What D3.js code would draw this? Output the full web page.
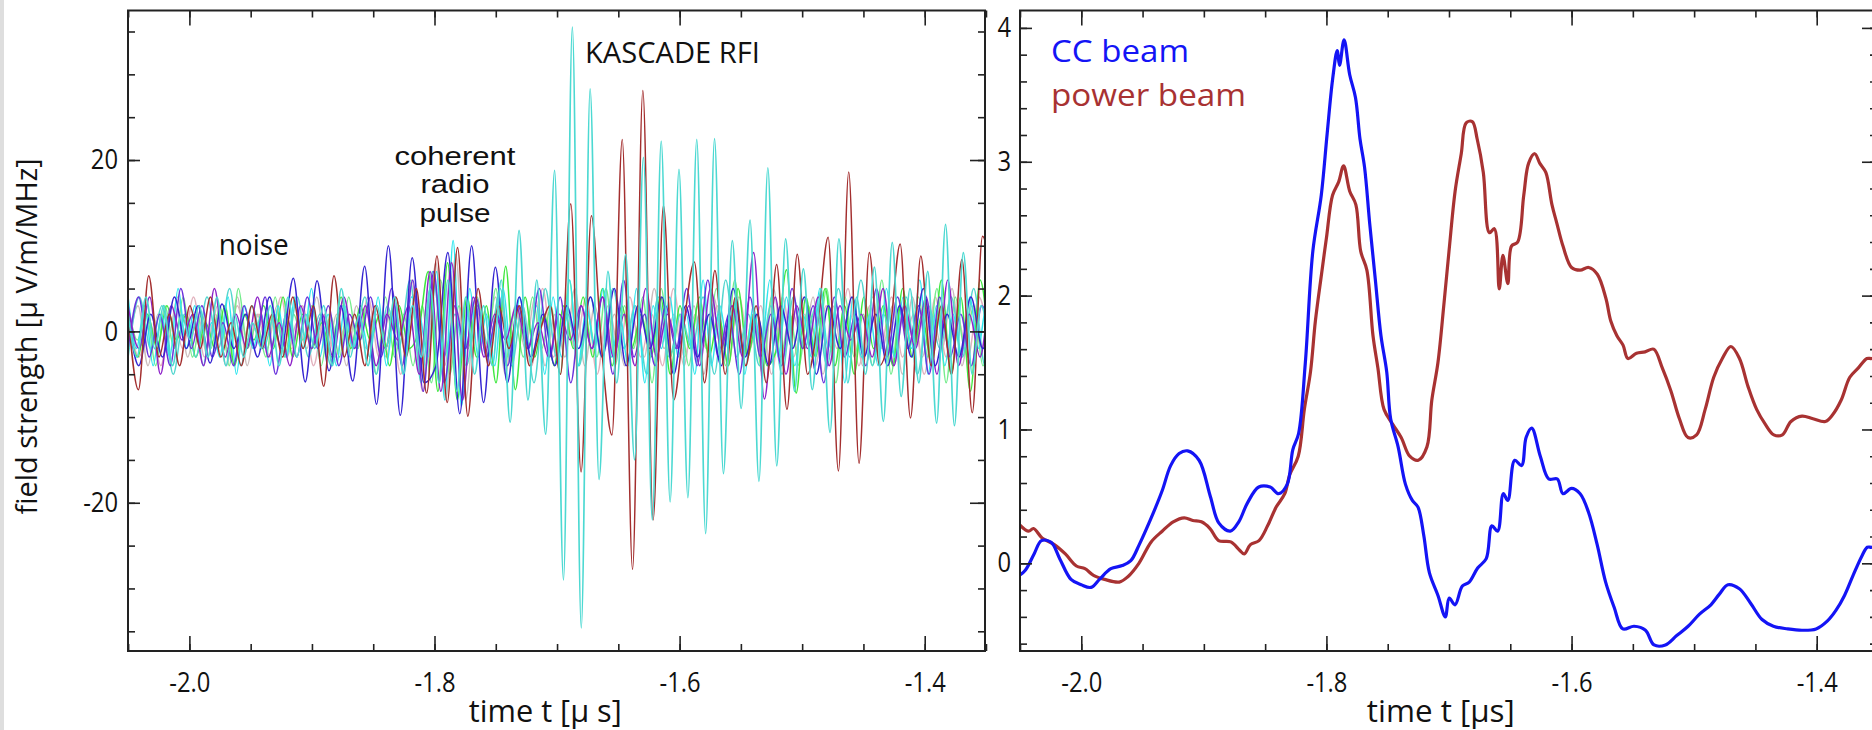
<!DOCTYPE html>
<html>
<head>
<meta charset="utf-8">
<script src="https://cdn.jsdelivr.net/npm/d3@7"></script>
<style>
  html, body { margin: 0; padding: 0; background: #fff; }
  svg { display: block; font-family: "Open Sans", "Noto Sans", sans-serif; }
</style>
</head>
<body>
<main></main>
<script>
"use strict";

//Tick labels of both panels
const timeTicks = [-2.0, -1.8, -1.6, -1.4];
const fieldTicks = [-20, 0, 20];
const beamTicks = [0, 1, 2, 3, 4];

//Left panel: antenna traces, one value per half period (sample spacing in traceSteps)
const traceOrder = ["grey", "pink", "lime", "green", "teal", "aqua", "violet", "purple", "blue", "brown", "cyan"];
const traceStart = [-2.05, -2.05, -2.05, -2.05, -2.05, -2.05, -2.05, -2.05, -2.051, -2.05, -2.05];
const traceSteps = [0.0081, 0.0089, 0.0075, 0.0079, 0.0092, 0.0068, 0.0086, 0.0088, 0.0097, 0.0084, 0.00725];

const greyTrace = [
  -2, 3, -4, 2, -1, 4, -3, 2, -3, 3, -2, 4, -4, 2, -2, 3, -3, 1, -2, 4,
  -3, 2, -4, 3, -2, 2, -3, 4, -2, 3, -4, 8, -8, 9, -8, 3, -2, 4, -5, 3,
  -2, 4, -4, 2, -3, 5, -4, 3, -2, 2, -4, 3, -3, 5, -2, 2, -4, 3, -5, 4,
  -2, 3, -3, 2, -4, 5, -3, 2, -2, 4, -5, 3, -3, 2, -4, 4, -2, 3, -5, 4,
  -3, 2, -2, 5, -4, 3, -2, 3, -2, 1,
];
const pinkTrace = [
  2, -3, 1, -4, 3, -2, 4, -3, 2, -4, 3, -1, 2, -3, 4, -2, 3, -4, 2, -3,
  1, -2, 4, -3, 2, -5, 6, -7, 6, -4, 3, -2, 2, -3, 4, -2, 3, -4, 5, -3,
  2, -2, 4, -5, 3, -2, 4, -3, 2, -4, 5, -3, 2, -2, 3, -4, 4, -2, 3, -5,
  4, -3, 2, -4, 3, -2, 5, -4, 3, -2, 4, -3, 2, -5, 4, -3, 2, -3, 4, -2,
];
const limeTrace = [
  3, -1, 2, -4, 3, -2, 4, -3, 2, -2, 3, -4, 5, -2, 1, -3, 4, -3, 2, -1,
  3, -4, 2, -3, 4, -2, 3, -5, 4, -3, 2, -4, 3, -6, 6, -5, 3, -2, 4, -3,
  5, -4, 2, -3, 4, -2, 3, -5, 6, -4, 2, -3, 5, -4, 3, -2, 4, -6, 5, -3,
  2, -4, 3, -2, 5, -4, 6, -3, 2, -5, 4, -3, 2, -4, 3, -2, 5, -6, 4, -3,
  2, -4, 6, -5, 3, -2, 4, -3, 5, -6, 4, -2, 3, -4, 2,
];
const greenTrace = [
  1, -3, 2, -2, 3, -1, 2, -3, 1, -2, 3, -4, 2, -1, 3, -2, 4, -3, 2, -2,
  1, -3, 4, -2, 3, -1, 2, -4, 3, -2, 0, 7, -7, 8, -8, 4, -3, 3, -6, 7.6,
  -6.8, 4, -3, 2, -4, 3, -2, 4, -3, 5, -4, 3, -2, 2, -3, 4, -5, 3, -2, 4,
  -3, 2, -4, 5, -3, 2, -4, -2, 7.2, -7.2, 4, -3, 5, -4, 3, -5, 4, -2, 3, -4,
  5, -3, 2, -4, 6, -5, 4, -7, 6, -3,
];
const tealTrace = [
  -3, 4, -2, 3, -5, 2, -3, 4, -2, 5, -4, 3, -2, 2, -3, 4, -3, 2, -4, 3,
  -2, 4, -5, 3, -2, 6, -6, 7, -3, 2, -4, 3, -2, 5, -4, 3, -6, 5, -3, 2,
  -4, 4, -3, 5, -2, 3, -5, 4, -3, 2, -2, 4, -5, 6, -3, 2, -4, 3, -5, 4,
  -2, 3, -4, 5, -3, 6, -4, 2, -3, 4, -5, 3, -2, 4, -3, 5, -4, 3, -2, 2,
];
const aquaTrace = [
  4, -2, 3, -4, 2, -3, 5, -2, 3, -4, 1, -3, 4, -5, 3, -2, 2, -4, 3, -3,
  4, -2, 5, -3, 2, -4, 3, -2, 1, -3, 4, -4, 3, -5, 4, 2, -3, 7, -8, 10.6,
  -8.7, 5, -3, 2, -4, 5, -3, 4, -2, 3, -5, 4, -3, 6, -4, 3, -2, 5, -3, 2,
  -4, 5, -6, 3, -2, 4, -3, 2, -5, 6, -4, 3, -2, 4, -5, 3, -2, 6, -3, 4,
  -4, 2, -3, 5, -2, 3, -6, 4, -3, 2, -4, 5, -3, 4, -2, 6, -5, 3, -4, 2,
  -3, 4, -2, 3, -1,
];
const violetTrace = [
  -2, 4, -3, 2, -4, 5, -2, 3, -3, 1, -4, 3, -2, 4, -5, 2, -3, 4, -2, 3,
  -4, 2, -1, 4, -3, 5, -4, 6, -7, 7, -6, 3, -2, 4, -3, 2, -4, 3, -2, 5,
  -3, 4, -6, 3, -2, 4, -5, 6, -3, 2, -4, 3, -2, 5, -4, 6, -3, 2, -5, 4,
  -3, 2, -4, 5, -2, 3, -6, 4, -3, 2, -4, 5, -3, 4, -2, 3, -5, 4, -3, 2,
  -4, 3, -2,
];
const purpleTrace = [
  3, -2, 4, -5, 3, -1, 2, -4, 5, -3, 2, -2, 4, -3, 1, -4, 3, -2, 2, -3,
  4, -2, 3, -4, 2, -1, 3, -5, 7, -7, 8, -8, 4, -3, 2, -1, 3, -2, 1, -3,
  2, -1, 3, -2, 4, -3, 2, -4, 5, -3, 2, -2, 3, -4, 5, -2, 3, -3, 9.2, -7.9,
  4, -5, 3, -2, 4, -4, 3, -1, 2, -3, 5, -4, 3, -2, 4, -5, 6, -4, 2, -3,
  4, -2,
];
const blueTrace = [
  3, -4, 2, -3, 4, -2, 3, -3.7, 3.2, -2, 2, -3, 4, -2, 6.2, -5.9, 5.9, -4.6, 3, -5.8,
  7.6, -8.5, 10, -9.8, 8.6, -6, -4, 9.2, -9.6, 10, -8.3, 7.5, -6, 4, -3, 2, -4, 3, -2, 4,
  -3, 5, -4, 3, -2, 4, -5, 3, -3, 2, -4, 5, -3, 2, -4, 3, -2, 4, -5, 3,
  -2, 4, -3, 2, -4, 3, -3, 5, -4, 2, -3, 4, -2, 3,
];
const brownTrace = [
  2, -6.8, 6.5, -3, 2, -4, 3, -2, 4, -3, 1, -4, 3, -2, 2, -3, 4, -2, 3, -6.4,
  6.5, -3, 2, -4, 3, -2, 4, -3, 5, -7.2, 8.8, -8.3, 9.8, -9.9, 5, -4, 3, -2, 3, -4,
  0, 3, -5, 14.9, -16.4, 13.5, -2, -12.1, 22.4, -27.8, 28.1, -22, 14.7, -8, 1, 8.1, -6, 7.1, -5, 4,
  -4, 3, -6, 7.8, -9.1, 9, -5, 1, 11, -16.3, 18.6, -15.4, 9.2, -4, 0, 10.2, -10.1, 8.8, -4, 3,
  -5, 8.4, -9.5, 11.1, 4,
];
const cyanTrace = [
  2, -3, 4, -2, 3, -4, 2, -1, 3, -3, 4, -4, 2, -3, 1, -2, 3, -4, 4, -3,
  2, -2, 3, -4, 5, -3, 2, -4, 3, -2, 4, -5, 3, -3, 5, -6, 6, -7, 4, -5,
  3, -4, 6, -10.6, 11.8, -8, 6, -12, 18.8, -29, 35.5, -34.6, 28.3, -17.3, 7, -6, 9, -15, 20.3, -22,
  22.2, -19.9, 18.9, -19.4, 22.4, -23.6, 22.5, -16.6, 10.6, -9, 13, -17.5, 19.1, -15.7, 10.8, -7, 7.3, -6.8, 5, -11.8,
  10.8, -6, 4, -5, 7.5, -10.5, 10.4, -7.6, 5, -6, 7, -10.7, 12.5, -11, 9.2, -5, 3, -2,
];

//Right panel: beamformed signals
const ccTime = [
  -2.05, -2.0455, -2.0385, -2.0325, -2.0246, -2.0176, -2.0084, -2.0, -1.9921, -1.9852,
  -1.9759, -1.9666, -1.9596, -1.9527, -1.9434, -1.9341, -1.9271, -1.9202, -1.9132, -1.9039,
  -1.8947, -1.8877, -1.8784, -1.8715, -1.8645, -1.8552, -1.8459, -1.839, -1.832, -1.8274,
  -1.8227, -1.8172, -1.8111, -1.8042, -1.7995, -1.7949, -1.7912, -1.7893, -1.7856, -1.781,
  -1.7763, -1.7726, -1.7689, -1.7647, -1.7601, -1.7555, -1.7508, -1.7476, -1.7415, -1.7355,
  -1.7299, -1.7253, -1.7206, -1.716, -1.709, -1.703, -1.6998, -1.6951, -1.6891, -1.6835,
  -1.6766, -1.6696, -1.665, -1.6603, -1.6557, -1.652, -1.6464, -1.6408, -1.6371, -1.6325,
  -1.6255, -1.6186, -1.6116, -1.607, -1.6, -1.593, -1.5861, -1.5791, -1.5722, -1.5652,
  -1.5582, -1.549, -1.5397, -1.5327, -1.5234, -1.5142, -1.5049, -1.4956, -1.4863, -1.4794,
  -1.4724, -1.4631, -1.4538, -1.4446, -1.4353, -1.4237, -1.4121, -1.4005, -1.3912, -1.3842,
  -1.3773, -1.3703, -1.3634, -1.3587, -1.355, -1.35,
];
const ccBeam = [
  -0.087, -0.05, 0.07, 0.17, 0.157, 0.035, -0.12, -0.16, -0.18, -0.12,
  -0.04, -0.017, 0.02, 0.14, 0.33, 0.54, 0.73, 0.82, 0.84, 0.77,
  0.5, 0.3, 0.24, 0.31, 0.45, 0.57, 0.57, 0.52, 0.59, 0.85,
  0.97, 1.5, 2.33, 2.75, 3.2, 3.62, 3.83, 3.72, 3.91, 3.65,
  3.48, 3.17, 2.96, 2.54, 2.12, 1.7, 1.43, 1.08, 0.87, 0.59,
  0.47, 0.42, 0.21, -0.07, -0.24, -0.4, -0.26, -0.31, -0.17, -0.14,
  -0.035, 0.035, 0.28, 0.24, 0.52, 0.47, 0.77, 0.73, 0.94, 1.01,
  0.8, 0.63, 0.63, 0.52, 0.56, 0.52, 0.38, 0.14, -0.14, -0.33,
  -0.49, -0.47, -0.5, -0.61, -0.61, -0.54, -0.47, -0.38, -0.31, -0.23,
  -0.16, -0.19, -0.3, -0.42, -0.47, -0.49, -0.5, -0.49, -0.43, -0.35,
  -0.24, -0.09, 0.05, 0.12, 0.12, 0.14,
];
const powerTime = [
  -2.05, -2.043, -2.039, -2.032, -2.022, -2.013, -2.004, -1.997, -1.99, -1.981,
  -1.969, -1.962, -1.953, -1.943, -1.934, -1.925, -1.916, -1.909, -1.902, -1.895,
  -1.888, -1.878, -1.871, -1.867, -1.862, -1.855, -1.848, -1.841, -1.834, -1.83,
  -1.823, -1.818, -1.813, -1.809, -1.804, -1.8, -1.795, -1.79, -1.786, -1.781,
  -1.776, -1.772, -1.767, -1.762, -1.758, -1.753, -1.746, -1.739, -1.732, -1.725,
  -1.718, -1.714, -1.709, -1.704, -1.7, -1.695, -1.69, -1.686, -1.681, -1.677,
  -1.672, -1.667, -1.663, -1.659, -1.656, -1.652, -1.649, -1.644, -1.639, -1.635,
  -1.63, -1.626, -1.621, -1.616, -1.612, -1.607, -1.6, -1.593, -1.586, -1.579,
  -1.572, -1.568, -1.563, -1.558, -1.554, -1.547, -1.54, -1.533, -1.526, -1.519,
  -1.512, -1.505, -1.498, -1.491, -1.484, -1.477, -1.47, -1.463, -1.456, -1.449,
  -1.442, -1.435, -1.428, -1.421, -1.412, -1.403, -1.393, -1.387, -1.38, -1.373,
  -1.366, -1.359, -1.355, -1.35,
];
const powerBeam = [
  0.285, 0.24, 0.26, 0.19, 0.14, 0.07, -0.02, -0.04, -0.09, -0.12,
  -0.14, -0.1, 0.0, 0.16, 0.24, 0.31, 0.34, 0.32, 0.31, 0.26,
  0.17, 0.16, 0.1, 0.07, 0.14, 0.17, 0.28, 0.42, 0.52, 0.66,
  0.8, 1.15, 1.43, 1.81, 2.16, 2.43, 2.75, 2.85, 2.97, 2.78,
  2.68, 2.33, 2.19, 1.7, 1.46, 1.15, 1.04, 0.94, 0.8, 0.77,
  0.87, 1.22, 1.5, 1.95, 2.33, 2.78, 3.06, 3.29, 3.3, 3.17,
  2.92, 2.47, 2.5, 2.05, 2.3, 2.09, 2.37, 2.4, 2.75, 2.99,
  3.06, 2.99, 2.92, 2.68, 2.54, 2.37, 2.21, 2.19, 2.21, 2.16,
  1.98, 1.81, 1.7, 1.63, 1.53, 1.57, 1.58, 1.6, 1.46, 1.29,
  1.08, 0.94, 0.96, 1.15, 1.39, 1.53, 1.62, 1.53, 1.32, 1.15,
  1.04, 0.96, 0.96, 1.06, 1.1, 1.08, 1.06, 1.11, 1.22, 1.39,
  1.46, 1.53, 1.53, 1.55,
];

const traceValues = {
  grey: greyTrace, pink: pinkTrace, lime: limeTrace, green: greenTrace, teal: tealTrace, aqua: aquaTrace,
  violet: violetTrace, purple: purpleTrace, blue: blueTrace, brown: brownTrace, cyan: cyanTrace,
};
const traceColors = {
  grey: "#cbbcbc", pink: "#e2b2be", lime: "#74ec8c", green: "#3ee83e", teal: "#52d6cf", aqua: "#2ee6ee",
  violet: "#6a32dc", purple: "#8e22c8", blue: "#3424d2", brown: "#a32e2e", cyan: "#4cd9d2",
};

//Dimensions
const w = 1872;
const h = 730;
const plotTop = 10.5;
const plotBottom = 651;
const leftBox = { x0: 128, x1: 985 };
const rightBox = { x0: 1020, x1: 1877 };

const svg = d3.select("main").append("svg").attr("width", w).attr("height", h);

//Grey strip on the very left edge of the figure
svg.append("rect").attr("x", 0).attr("y", 0).attr("width", 4).attr("height", h).attr("fill", "#dedede");

const xLeft = d3.scaleLinear().domain([-2.0501, -1.3508]).range([leftBox.x0, leftBox.x1]);
const yField = d3.scaleLinear().domain([-37.3, 37.45]).range([plotBottom, plotTop]);
const xRight = d3.scaleLinear().domain([-2.05, -1.3508]).range([rightBox.x0, rightBox.x1]);
const yBeam = d3.scaleLinear().domain([-0.655, 4.13]).range([plotBottom, plotTop]);

//Shrink text horizontally (the original lettering is narrow)
const condense = (sel, factor) => {
  sel.each(function () {
    const len = this.getComputedTextLength();
    d3.select(this).attr("textLength", len * factor).attr("lengthAdjust", "spacingAndGlyphs");
  });
};

//Frame + inward ticks on all four sides
const drawFrame = (x, y, box, yMajor, yMinor, yPad) => {
  const g = svg.append("g").attr("class", "frame");
  const minorTime = d3.range(-2.05, -1.349, 0.05);

  const tickStyle = (sel) => {
    sel.select(".domain").remove();
    sel.selectAll("line").attr("stroke", "#222").attr("stroke-width", 1.6);
  };

  g.append("g").attr("transform", `translate(0,${plotBottom})`)
    .call(d3.axisBottom(x).tickValues(minorTime).tickSize(-7).tickFormat("")).call(tickStyle);
  g.append("g").attr("transform", `translate(0,${plotBottom})`)
    .call(d3.axisBottom(x).tickValues(timeTicks).tickSize(-15).tickPadding(22).tickFormat((d) => d.toFixed(1)))
    .call(tickStyle);
  g.append("g").attr("transform", `translate(0,${plotTop})`)
    .call(d3.axisTop(x).tickValues(minorTime).tickSize(-7).tickFormat("")).call(tickStyle);
  g.append("g").attr("transform", `translate(0,${plotTop})`)
    .call(d3.axisTop(x).tickValues(timeTicks).tickSize(-15).tickFormat("")).call(tickStyle);

  g.append("g").attr("transform", `translate(${box.x0},0)`)
    .call(d3.axisLeft(y).tickValues(yMinor).tickSize(-7).tickFormat("")).call(tickStyle);
  g.append("g").attr("transform", `translate(${box.x0},0)`)
    .call(d3.axisLeft(y).tickValues(yMajor).tickSize(-12).tickPadding(yPad).tickFormat((d) => String(d)))
    .call(tickStyle);
  g.append("g").attr("transform", `translate(${box.x1},0)`)
    .call(d3.axisRight(y).tickValues(yMinor).tickSize(-7).tickFormat("")).call(tickStyle);
  g.append("g").attr("transform", `translate(${box.x1},0)`)
    .call(d3.axisRight(y).tickValues(yMajor).tickSize(-15).tickFormat("")).call(tickStyle);

  g.selectAll("text").attr("font-family", "Open Sans").attr("font-size", 27).attr("fill", "#111");
  condense(g.selectAll("text"), 0.88);

  g.append("rect")
    .attr("x", box.x0).attr("y", plotTop)
    .attr("width", box.x1 - box.x0).attr("height", plotBottom - plotTop)
    .attr("fill", "none").attr("stroke", "#222").attr("stroke-width", 2);
};

//Clip regions
const defs = svg.append("defs");
[["clipLeft", leftBox], ["clipRight", rightBox]].forEach(([id, box]) => {
  defs.append("clipPath").attr("id", id).append("rect")
    .attr("x", box.x0).attr("y", plotTop).attr("width", box.x1 - box.x0).attr("height", plotBottom - plotTop);
});

//Left panel traces
const traceLine = d3.line().x((d) => xLeft(d[0])).y((d) => yField(d[1])).curve(d3.curveMonotoneX);
const traces = svg.append("g").attr("clip-path", "url(#clipLeft)");

traceOrder.forEach((name, i) => {
  const pts = traceValues[name].map((v, k) => [traceStart[i] + k * traceSteps[i], v]);
  traces.append("path")
    .datum(pts)
    .attr("fill", "none")
    .attr("stroke", traceColors[name])
    .attr("stroke-width", name === "cyan" ? 1.7 : 1.5)
    .attr("d", traceLine);
});

//Right panel beams
const beamLine = d3.line().x((d) => xRight(d[0])).y((d) => yBeam(d[1])).curve(d3.curveCatmullRom.alpha(0.5));
const beams = svg.append("g").attr("clip-path", "url(#clipRight)");

beams.append("path")
  .datum(powerTime.map((t, i) => [t, powerBeam[i]]))
  .attr("fill", "none").attr("stroke", "#a83232").attr("stroke-width", 3.2).attr("d", beamLine);
beams.append("path")
  .datum(ccTime.map((t, i) => [t, ccBeam[i]]))
  .attr("fill", "none").attr("stroke", "#1414f5").attr("stroke-width", 3.2).attr("d", beamLine);

drawFrame(xLeft, yField, leftBox, fieldTicks, d3.range(-35, 36, 5), 10);
drawFrame(xRight, yBeam, rightBox, beamTicks, d3.range(-0.6, 4.1, 0.2), 9);

//Text labels
const label = (x, y, text, opts = {}) => {
  const t = svg.append("text")
    .attr("x", x).attr("y", y)
    .attr("font-family", opts.family || "Open Sans")
    .attr("font-size", opts.size || 29)
    .attr("fill", opts.color || "#111")
    .attr("text-anchor", opts.anchor || "middle")
    .text(text);
  if (opts.rotate) t.attr("transform", `rotate(${opts.rotate},${x},${y})`);
  if (opts.width) t.attr("textLength", opts.width).attr("lengthAdjust", "spacingAndGlyphs");
  return t;
};

label(253.7, 255, "noise", { width: 70 });
label(672.5, 63.4, "KASCADE RFI", { size: 30, width: 175 });

//Tight three-line note: a font with a short line box keeps the lines apart
label(455, 164.5, "coherent", { family: "Liberation Sans", size: 25.5, width: 121 });
label(455, 193, "radio", { family: "Liberation Sans", size: 25.5, width: 69 });
label(455, 221.5, "pulse", { family: "Liberation Sans", size: 25.5, width: 71 });

label(1051, 62, "CC beam", { size: 31, anchor: "start", width: 138, color: "#1414f5" });
label(1051, 106, "power beam", { size: 31, anchor: "start", width: 195, color: "#a83232" });

label(545.3, 722, "time t [\u03bc s]", { size: 31, width: 153 });
label(1440.8, 722, "time t [\u03bcs]", { size: 31, width: 148 });
label(37, 336.4, "field strength [\u03bc V/m/MHz]", { size: 30, width: 356, rotate: -90 });
</script>
</body>
</html>
